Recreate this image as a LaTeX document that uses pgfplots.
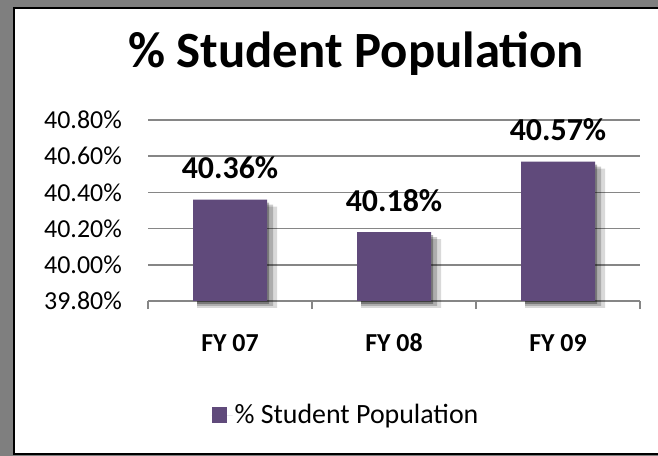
\documentclass[border=0pt]{standalone}
\usepackage{fontspec}
\setmainfont{Carlito}
\usepackage{pgfplots}
\usepackage{pgfplotstable}
\pgfplotsset{compat=1.18}
\definecolor{barpurple}{HTML}{604A7B}
\definecolor{gridgray}{HTML}{868686}
\definecolor{framegray}{HTML}{7F7F7F}

\pgfplotstableread{
x  share
1  40.36
2  40.18
3  40.57
}\popdata

\begin{document}
\begin{tikzpicture}
\path[use as bounding box] (0bp,0bp) rectangle (658bp,456bp);
\fill[framegray] (0bp,0bp) rectangle (658bp,456bp);
\fill[white] (14bp,1bp) rectangle (658bp,448bp);
\draw[black, line width=2bp] (658bp,448bp) -- (14bp,448bp) -- (14bp,2bp) -- (658bp,2bp);

\begin{axis}[
    at={(148bp,155bp)}, anchor=south west,
    scale only axis, width=492bp, height=181bp,
    ybar, bar width=74bp, clip=false,
    % bars start at the axis floor 39.80
    y coord trafo/.code={\pgfmathparse{#1-39.8}},
    y coord inv trafo/.code={\pgfmathparse{#1+39.8}},
    xmin=0.5, xmax=3.5, ymin=39.8, ymax=40.8,
    xtick={1,2,3}, xticklabels={FY 07,FY 08,FY 09},
    ytick={39.8,40.0,40.2,40.4,40.6,40.8},
    yticklabel={\pgfmathprintnumber[fixed,fixed zerofill,precision=2]{\tick}\%},
    /pgf/number format/assume math mode=true,
    ymajorgrids, grid style={gridgray, line width=1.5bp},
    axis x line*=bottom, axis y line*=left,
    y axis line style={draw=none},
    x axis line style={gridgray, line width=1.5bp, -},
    major tick length=0pt,
    extra x ticks={0.5,1.5,2.5,3.5}, extra x tick labels={},
    extra x tick style={major tick length=8bp, tick align=outside, grid=none,
        tick style={gridgray, line width=1.5bp}},
    xticklabel style={font=\fontsize{26}{30}\selectfont\bfseries, anchor=base, inner sep=0pt, yshift=-50bp},
    yticklabel style={font=\fontsize{26}{30}\selectfont, anchor=east, inner sep=0pt, xshift=-26bp},
    title={\% Student Population},
    title style={at={(0.4228,1)}, anchor=base, yshift=47bp, inner sep=0pt,
        font=\fontsize{51}{56}\selectfont\bfseries},
    legend style={at={(0.4024,-0.630)}, anchor=center, draw=none, fill=none,
        font=\fontsize{28}{32}\selectfont},
    legend image code/.code={\fill[barpurple] (0bp,-8bp) rectangle (15bp,8bp); \path (0bp,0bp) -- (21bp,0bp);},
]
% soft shadow behind the bars
\addplot[forget plot, fill=black, draw=none, opacity=0.15, bar shift=7bp, bar width=80bp, yshift=-7bp] table[x=x, y=share] {\popdata};
\addplot[forget plot, fill=black, draw=none, opacity=0.2, bar shift=5bp, bar width=76bp, yshift=-5bp] table[x=x, y=share] {\popdata};
\addplot[forget plot, fill=black, draw=none, opacity=0.3, bar shift=3bp, bar width=72bp, yshift=-3bp] table[x=x, y=share] {\popdata};
\addplot[fill=barpurple, draw=none, bar shift=0bp,
    point meta=rawy,
    nodes near coords={\pgfmathprintnumber[fixed,fixed zerofill,precision=2,assume math mode=true]{\pgfplotspointmeta}\%},
    every node near coord/.append style={font=\fontsize{32}{36}\selectfont\bfseries,
        anchor=base, inner sep=0pt, yshift=21bp, black}]
    table[x=x, y=share] {\popdata};
\legend{\% Student Population}
\end{axis}
\end{tikzpicture}
\end{document}
